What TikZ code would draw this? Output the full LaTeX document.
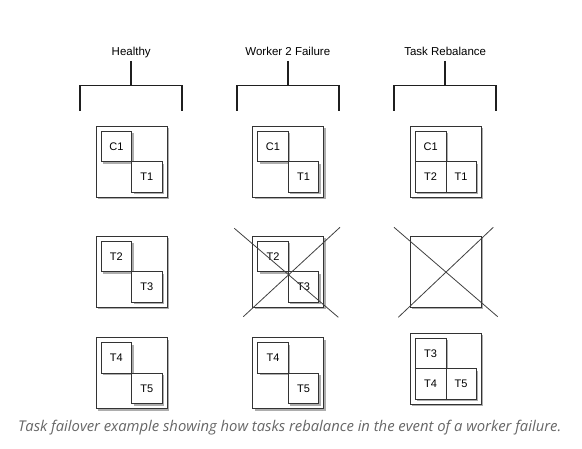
\documentclass[tikz,border=0pt]{standalone}
\usepackage{fontspec}
\setmainfont{Liberation Sans}
\newfontfamily\capfont{Open Sans}
\usetikzlibrary{shadows}
\begin{document}
\begin{tikzpicture}[x=1pt,y=-1pt,
  shad/.style={drop shadow={shadow xshift=2pt,shadow yshift=-2pt,fill=black!32,opacity=1}},
  outerbox/.style={draw=black!80,line width=0.9pt,minimum width=71pt,minimum height=71pt,
    anchor=north west,inner sep=0pt,fill=white,shad},
  task/.style={draw=black!80,line width=0.8pt,minimum width=30.5pt,minimum height=30.5pt,
    anchor=north west,inner sep=0pt,fill=white,shad,font=\fontsize{11}{11}\selectfont},
  bracket/.style={line width=1.9pt,draw=black!88},
  cross/.style={line width=0.8pt,draw=black!75},
  title/.style={font=\fontsize{11.5}{12}\selectfont,anchor=base,inner sep=0pt}]
\useasboundingbox (0,0) rectangle (582,449);

% titles and brackets
\foreach \n/\c/\t in {h/131.2/Healthy, w/287.8/Worker 2 Failure, r/445.2/Task Rebalance}{
  \node[title] (\n title) at (\c,56) {\t};
  \coordinate (\n top) at (\c,61);
  \coordinate (\n mid) at (\c,85.5);
  \coordinate (\n L) at (\c-51,111);
  \coordinate (\n R) at (\c+51,111);
  \draw[bracket] (\n top) -- (\n mid);
  \draw[bracket,line join=miter] (\n L) -- (\n L |- \n mid) -- (\n R |- \n mid) -- (\n R);
}

% Healthy column
\node[outerbox] (h1) at (95.7,126) {};
\node[task] (h1a) at (100.7,131) {C1};
\node[task] (h1b) at (131.2,161.5) {T1};
\node[outerbox] (h2) at (95.7,236) {};
\node[task] (h2a) at (100.7,241) {T2};
\node[task] (h2b) at (131.2,271.5) {T3};
\node[outerbox] (h3) at (95.7,337.5) {};
\node[task] (h3a) at (100.7,342.5) {T4};
\node[task] (h3b) at (131.2,373) {T5};

% Worker 2 Failure column
\node[outerbox] (w1) at (252.3,126) {};
\node[task] (w1a) at (257.3,131) {C1};
\node[task] (w1b) at (287.8,161.5) {T1};
\node[outerbox] (w2) at (252.3,236) {};
\node[task] (w2a) at (257.3,241) {T2};
\node[task] (w2b) at (287.8,271.5) {T3};
\node[outerbox] (w3) at (252.3,337.5) {};
\node[task] (w3a) at (257.3,342.5) {T4};
\node[task] (w3b) at (287.8,373) {T5};
\coordinate (wx1) at (234.3,228.3);
\coordinate (wx2) at (338.3,317.3);
\coordinate (wx3) at (340,227.3);
\coordinate (wx4) at (243.3,316.7);
\draw[cross] (wx1) -- (wx2);
\draw[cross] (wx3) -- (wx4);

% Task Rebalance column
\node[outerbox] (r1) at (410,126) {};
\node[task] (r1a) at (415,131) {C1};
\node[task] (r1b) at (415,161.5) {T2};
\node[task] (r1c) at (445.5,161.5) {T1};
\node[outerbox] (r2) at (410,236) {};
\coordinate (rx1) at (394,227.3);
\coordinate (rx2) at (497.7,316.7);
\coordinate (rx3) at (493.3,227.3);
\coordinate (rx4) at (398.3,317.3);
\draw[cross] (rx1) -- (rx2);
\draw[cross] (rx3) -- (rx4);
\node[outerbox] (r3) at (410,333) {};
\node[task] (r3a) at (415,338) {T3};
\node[task] (r3b) at (415,368.5) {T4};
\node[task] (r3c) at (445.5,368.5) {T5};

% caption
\node[font=\capfont\itshape\fontsize{14.8}{15}\selectfont,text=black!60,anchor=base,inner sep=0pt]
  (cap) at (289.7,432) {Task failover example showing how tasks rebalance in the event of a worker failure.};
\end{tikzpicture}
\end{document}
